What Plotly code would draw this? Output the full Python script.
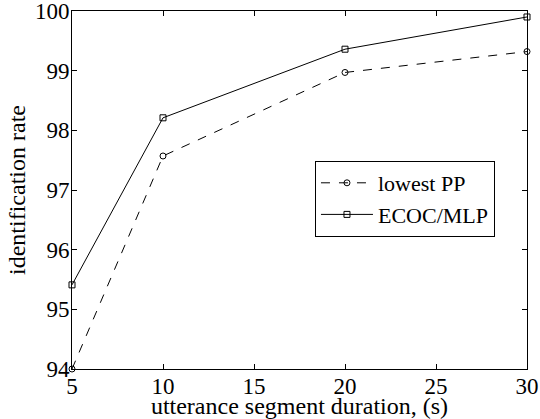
import plotly.graph_objects as go

durations = [5, 10, 20, 30]
lowest_pp = [94.0, 97.57, 98.97, 99.32]
ecoc_mlp = [95.41, 98.21, 99.36, 99.90]
x_ticks = [5, 10, 15, 20, 25, 30]
y_ticks = [94, 95, 96, 97, 98, 99, 100]

FONT = "Liberation Serif"
FS_TICK = 23
FS_TITLE = 24
FS_LEG = 22

fig = go.Figure()
fig.add_trace(go.Scatter(
    x=durations, y=lowest_pp, name="lowest PP", mode="lines+markers",
    line=dict(color="black", width=1, dash="dash"),
    marker=dict(symbol="circle-open", size=6, color="black", line=dict(width=1)),
    cliponaxis=False,
))
fig.add_trace(go.Scatter(
    x=durations, y=ecoc_mlp, name="ECOC/MLP", mode="lines+markers",
    line=dict(color="black", width=1),
    marker=dict(symbol="square-open", size=6, color="black", line=dict(width=1)),
    cliponaxis=False,
))

axis_common = dict(
    showgrid=False, zeroline=False, showline=True, linecolor="black", linewidth=1,
    mirror="ticks", ticks="inside", ticklen=5, tickcolor="black", tickwidth=1,
    tickfont=dict(family=FONT, size=FS_TICK, color="black"), automargin=False,
    ticklabeloverflow="allow",
)
fig.update_xaxes(range=[5, 30], tickvals=x_ticks, ticklabelstandoff=-4,
                 title=dict(text="utterance segment duration, (s)",
                            font=dict(family=FONT, size=FS_TITLE, color="black"), standoff=2),
                 **axis_common)
fig.update_yaxes(range=[94, 100], tickvals=y_ticks, ticklabelstandoff=-3,
                 title=dict(text="identification rate",
                            font=dict(family=FONT, size=FS_TITLE, color="black"), standoff=2),
                 **axis_common)

fig.update_layout(
    width=540, height=419,
    margin=dict(l=72, r=13, t=11, b=50),
    paper_bgcolor="white", plot_bgcolor="white",
    font=dict(family=FONT, size=FS_TICK, color="black"),
    showlegend=True,
    legend=dict(x=0.534, y=0.581, xanchor="left", yanchor="top",
                bgcolor="white", bordercolor="black", borderwidth=1,
                font=dict(family=FONT, size=FS_LEG, color="black"),
                tracegroupgap=0, itemwidth=52,
                entrywidthmode="pixels", entrywidth=147),
)

fig.write_html("out.html", config={"displayModeBar": False},
               post_script="document.body.style.margin='0px';document.body.style.overflow='hidden';")
